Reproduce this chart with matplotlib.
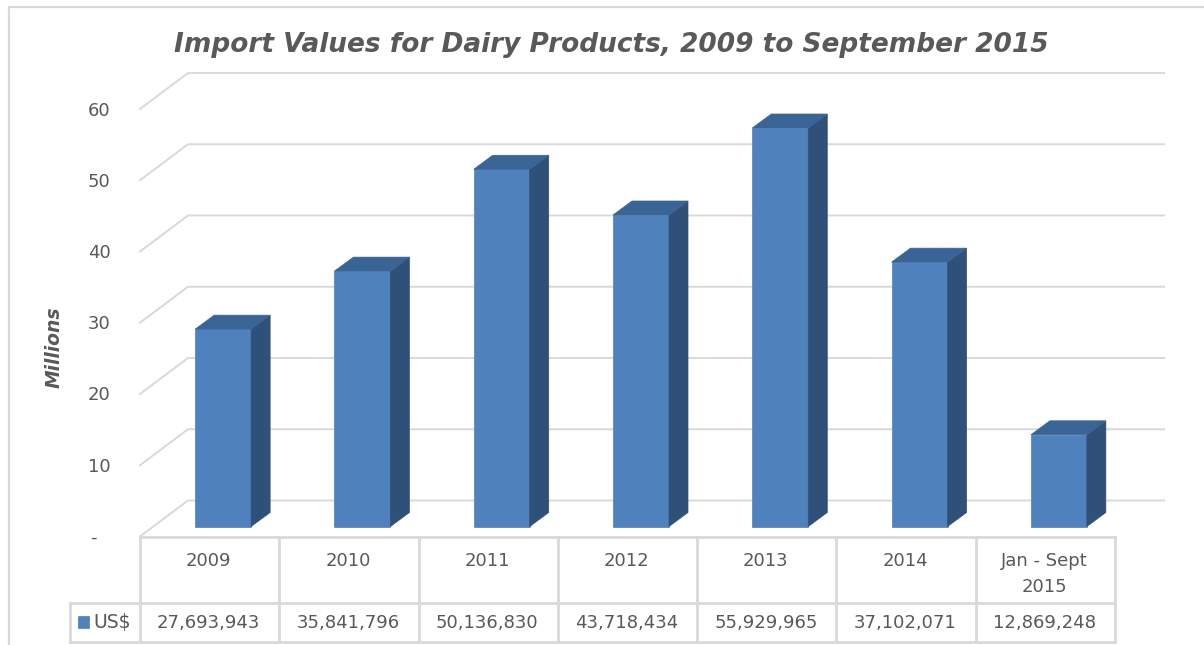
import matplotlib
matplotlib.use("Agg")
import matplotlib.pyplot as plt
from matplotlib.patches import Polygon

categories = ["2009", "2010", "2011", "2012", "2013", "2014", "Jan - Sept\n2015"]
values = [27693943, 35841796, 50136830, 43718434, 55929965, 37102071, 12869248]
value_labels = ["27,693,943", "35,841,796", "50,136,830", "43,718,434", "55,929,965", "37,102,071", "12,869,248"]
y_ticks = [0, 10, 20, 30, 40, 50, 60]
y_labels = ["-", "10", "20", "30", "40", "50", "60"]

W, H = 1204, 645
GRID = "#d9d9d9"
TEXT = "#595959"
FRONT = "#4f81bd"
TOP = "#3a6496"
SIDE = "#2f5079"

fig = plt.figure(figsize=(W / 100, H / 100), dpi=100)
plt.rcParams["font.family"] = "DejaVu Sans"

# axes lined up with the front plane of the 3d box
left, right, y0, y60 = 140, 1115, 536.5, 109
ax = fig.add_axes([left / W, 1 - y0 / H, (right - left) / W, (y0 - y60) / H])
ax.set_xlim(0, 7)
ax.set_ylim(0, 60)
ax.axis("off")

sx = 7 / (right - left)
sy = 60 / (y0 - y60)

# chart border
bg = fig.add_axes([0, 0, 1, 1], zorder=-1)
bg.set_xlim(0, W)
bg.set_ylim(H, 0)
bg.axis("off")
bg.plot([8.5, 8.5, W], [H, 6.5, 6.5], color="#d9d9d9", lw=1.6)

# gridlines: wall and floor
depth_x, depth_y = 48 * sx, 36 * sy
for t in y_ticks:
    ax.plot([0, depth_x, 7 + 49 * sx], [t, t + depth_y, t + depth_y], color=GRID, lw=1.4,
            clip_on=False, zorder=1)
    ax.text(-41 * sx if t else -47 * sx, t - 1.5 * sy, y_labels[y_ticks.index(t)], ha="center", va="center",
            fontsize=13, color=TEXT, clip_on=False)

# bars
bar_w = 56 * sx
off_x, off_y = 13.5 * sx, 10 * sy
d_x, d_y = 19 * sx, 14 * sy
for i, v in enumerate(values):
    m = v / 1e6
    x0 = i + 0.5 + off_x - bar_w / 2
    x1 = x0 + bar_w
    b = off_y
    t = m + off_y
    ax.add_patch(Polygon([(x0, b), (x1, b), (x1, t), (x0, t)], fc=FRONT, ec=FRONT, lw=0.5, zorder=3, clip_on=False))
    ax.add_patch(Polygon([(x1, b), (x1 + d_x, b + d_y), (x1 + d_x, t + d_y), (x1, t)], fc=SIDE, ec=SIDE, lw=0.5, zorder=3, clip_on=False))
    ax.add_patch(Polygon([(x0, t), (x1, t), (x1 + d_x, t + d_y), (x0 + d_x, t + d_y)], fc=TOP, ec=TOP, lw=0.5, zorder=3, clip_on=False))

# data table
row_mid = -66.5 * sy
row_bot = -105.5 * sy
key_left = -70 * sx
tk = dict(color=GRID, lw=2, clip_on=False, zorder=2)
for i in range(8):
    ax.plot([i, i], [0, row_bot], **tk)
ax.plot([0, 7], [0, 0], **tk)
ax.plot([key_left, 7], [row_mid, row_mid], **tk)
ax.plot([key_left, 7], [row_bot, row_bot], **tk)
ax.plot([key_left, key_left], [row_mid, row_bot], **tk)
for i, c in enumerate(categories):
    ax.text(i + 0.5 - 1 * sx, -15 * sy, c, ha="center", va="top", fontsize=13, color=TEXT,
            linespacing=1.6, clip_on=False)
    ax.text(i + 0.5 - 1 * sx, (row_mid + row_bot) / 2, value_labels[i], ha="center", va="center",
            fontsize=13, color=TEXT, clip_on=False)

# legend key
ax.add_patch(Polygon([(-62 * sx, row_mid - 13 * sy), (-51 * sx, row_mid - 13 * sy),
                      (-51 * sx, row_mid - 25 * sy), (-62 * sx, row_mid - 25 * sy)],
                     fc=FRONT, ec=FRONT, lw=0.5, clip_on=False))
ax.text(-47 * sx, (row_mid + row_bot) / 2, "US$", ha="left", va="center", fontsize=13.5,
        color=TEXT, clip_on=False)

fig.text(611 / W, 1 - 45 / H, "Import Values for Dairy Products, 2009 to September 2015", ha="center",
         va="center", fontsize=19, fontweight="bold", fontstyle="italic", color=TEXT)
fig.text(54 / W, 1 - 347 / H, "Millions", rotation=90, ha="center", va="center", fontsize=13.5,
         fontweight="bold", fontstyle="italic", color=TEXT)

fig.savefig("out.png", dpi=100)
